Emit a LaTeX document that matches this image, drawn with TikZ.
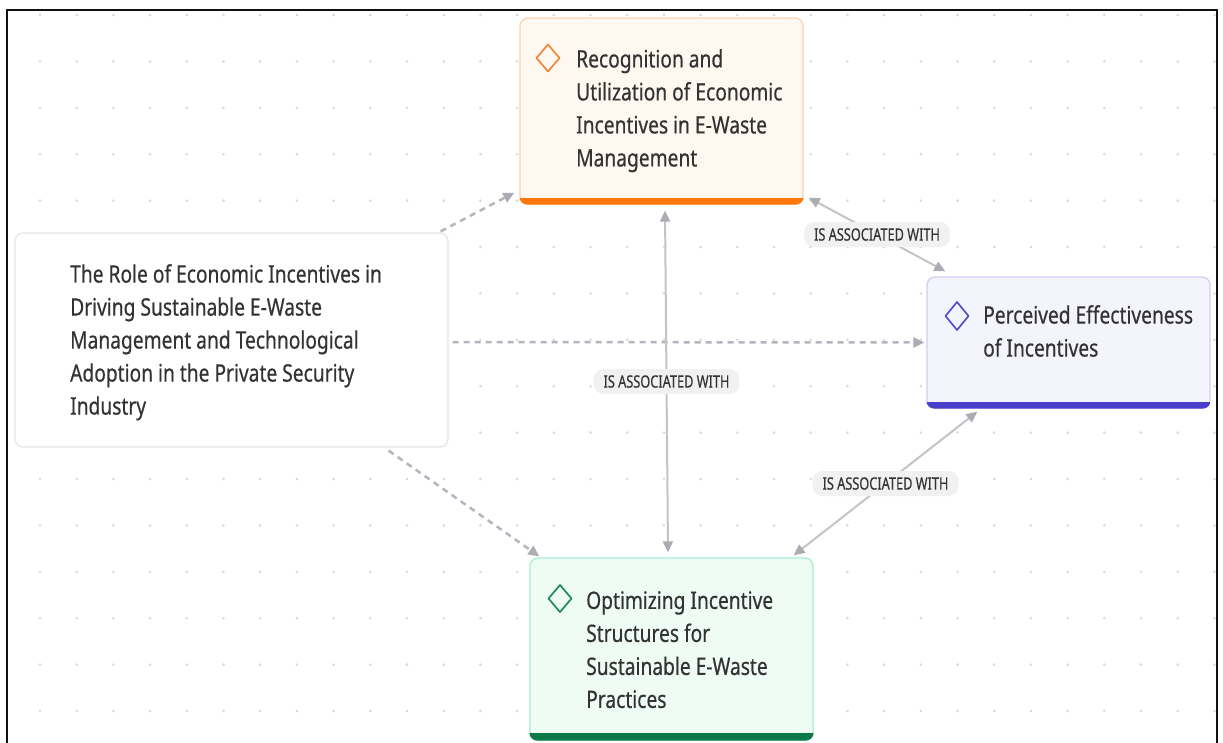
\documentclass[tikz,border=0pt]{standalone}
\usepackage{fontspec}
\setmainfont{Noto Sans}[FakeStretch=0.8,FakeBold=0.45]
\newfontfamily\labelfont{Noto Sans}[FakeStretch=0.75,FakeBold=0.35]
\usetikzlibrary{arrows.meta,calc}

\definecolor{txt}{HTML}{333333}
\definecolor{dotc}{HTML}{D8D8D8}
\definecolor{framec}{HTML}{111111}
\definecolor{orfill}{HTML}{FFF8F1}
\definecolor{orline}{HTML}{FAD3B0}
\definecolor{orbar}{HTML}{FF780A}
\definecolor{ordia}{HTML}{F0873A}
\definecolor{pufill}{HTML}{F4F4FD}
\definecolor{puline}{HTML}{D0CEF3}
\definecolor{pubar}{HTML}{4A3FCB}
\definecolor{pudia}{HTML}{5A4FC8}
\definecolor{grfill}{HTML}{EEFCF5}
\definecolor{grline}{HTML}{A8EED3}
\definecolor{grbar}{HTML}{0B7A48}
\definecolor{grdia}{HTML}{1E8A5A}
\definecolor{wline}{HTML}{E6E6E6}
\definecolor{dashc}{HTML}{B5B5C0}
\definecolor{linec}{HTML}{C4C4C4}
\definecolor{tipc}{HTML}{ABABB3}
\definecolor{labc}{HTML}{F1F1F1}

\begin{document}
\begin{tikzpicture}[x=1pt,y=-1pt,
  box/.style={draw, rounded corners=8pt, line width=1.3pt, inner sep=0pt},
  body/.style={anchor=north west, inner sep=0pt, align=left, text=txt,
    font=\fontsize{24}{33}\selectfont},
  dashlink/.style={draw=dashc, line width=2.5pt, dash pattern=on 6pt off 5pt,
    -{Triangle[length=11pt,width=10pt,fill=tipc,color=tipc]}},
  assoc/.style={draw=linec, line width=2pt,
    {Triangle[length=11pt,width=10pt,fill=tipc,color=tipc]}-{Triangle[length=11pt,width=10pt,fill=tipc,color=tipc]}},
  lab/.style={fill=labc, rounded corners=10pt, text=txt, inner xsep=10pt,
    inner ysep=0pt, minimum height=25pt,
    font=\labelfont\fontsize{17}{20}\selectfont},
  icon/.style={line width=1.7pt, line join=round}
]
\useasboundingbox (0,0) rectangle (1223,742);
\fill[white] (0,0) rectangle (1223,742);

% dotted canvas grid
\foreach \i in {0,...,32}
  \foreach \j in {0,...,15}
    \fill[dotc] ({40+36.7*\i},{15+46.4*\j}) circle (1.4);

% outer frame (open at the bottom)
\draw[framec, line width=2.2pt] (7,750) -- (7,10) -- (1217,10) -- (1217,750);

% central topic
\node[box, draw=wline, fill=white, minimum width=433pt, minimum height=214pt] (role) at (231.5,340) {};
\node[body] (roletext) at (70,264) {The Role of Economic Incentives in\\Driving Sustainable E-Waste\\Management and Technological\\Adoption in the Private Security\\Industry};

% recognition (orange)
\node[box, draw=orline, fill=orfill, minimum width=283pt, minimum height=186pt] (rec) at (661.5,111) {};
\begin{scope}
  \clip[rounded corners=8pt] (rec.south west) rectangle (rec.north east);
  \fill[orbar] ($(rec.south west)+(0,-7)$) rectangle (rec.south east);
\end{scope}
\draw[icon, draw=ordia] (548,44.5) -- (559.5,58) -- (548,71.5) -- (536.5,58) -- cycle;
\node[body] (rectext) at (576,49) {Recognition and\\Utilization of Economic\\Incentives in E-Waste\\Management};

% perceived effectiveness (purple)
\node[box, draw=puline, fill=pufill, minimum width=283pt, minimum height=131pt] (perc) at (1068.5,342.5) {};
\begin{scope}
  \clip[rounded corners=8pt] (perc.south west) rectangle (perc.north east);
  \fill[pubar] ($(perc.south west)+(0,-7)$) rectangle (perc.south east);
\end{scope}
\draw[icon, draw=pudia] (957,302) -- (968.5,316) -- (957,330) -- (945.5,316) -- cycle;
\node[body] (perctext) at (983,305) {Perceived Effectiveness\\of Incentives};

% optimizing structures (green)
\node[box, draw=grline, fill=grfill, minimum width=283pt, minimum height=182pt] (opt) at (671.5,649) {};
\begin{scope}
  \clip[rounded corners=8pt] (opt.south west) rectangle (opt.north east);
  \fill[grbar] ($(opt.south west)+(0,-8)$) rectangle (opt.south east);
\end{scope}
\draw[icon, draw=grdia] (560,585) -- (571.5,598.5) -- (560,612) -- (548.5,598.5) -- cycle;
\node[body] (opttext) at (586,591) {Optimizing Incentive\\Structures for\\Sustainable E-Waste\\Practices};

% dashed links from the central topic
\draw[dashlink] ($(role.north east)+(-8,-1)$) -- ($(rec.south west)+(-5,-12)$);
\draw[dashlink] ($(role.east)+(4,2)$) -- ($(perc.west)+(-2,0)$);
\draw[dashlink] ($(role.south east)+(-60,3)$) -- ($(opt.north west)+(10,-1)$);

% associations
\draw[assoc] ($(rec.south east)+(5,-7)$) -- ($(perc.north west)+(19,-5)$)
  node[lab, midway] (l1) {IS ASSOCIATED WITH};
\draw[assoc] ($(rec.south)+(3.5,6)$) -- ($(opt.north)+(-3.5,-5)$)
  node[lab, midway] (l2) {IS ASSOCIATED WITH};
\draw[assoc] ($(perc.south west)+(51,3)$) -- ($(opt.north east)+(-20,-2)$)
  node[lab, midway] (l3) {IS ASSOCIATED WITH};
\end{tikzpicture}
\end{document}
